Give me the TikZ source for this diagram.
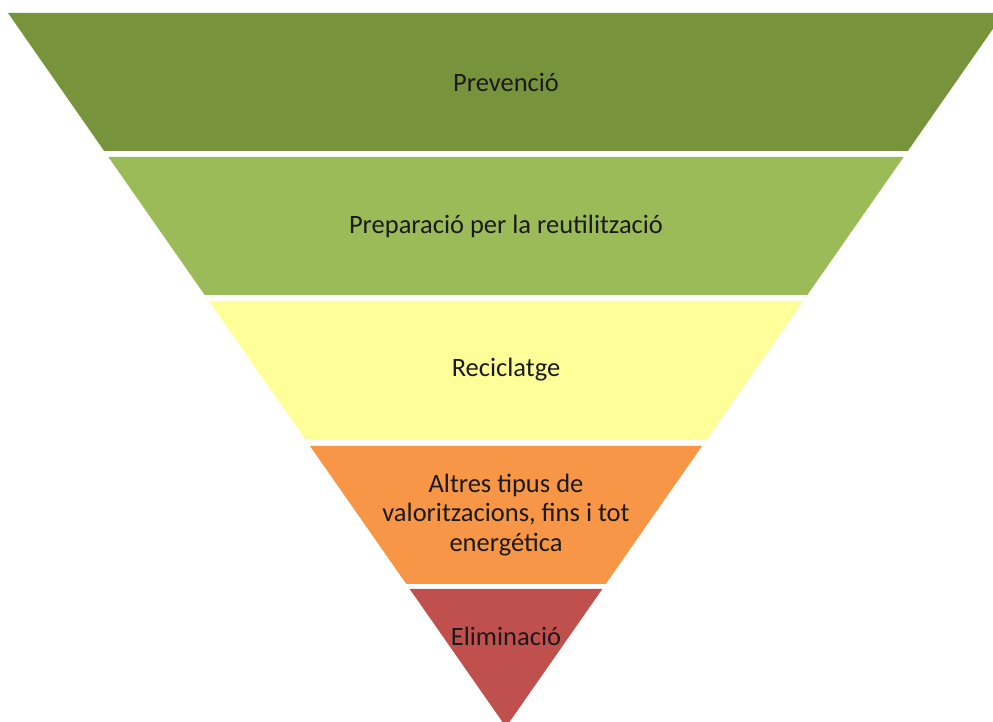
\documentclass[tikz,border=0pt]{standalone}
\usepackage{fontspec}
\setmainfont{Carlito}
\definecolor{cA}{HTML}{77933C}
\definecolor{cB}{HTML}{9BBB59}
\definecolor{cC}{HTML}{FFFF99}
\definecolor{cD}{HTML}{F79646}
\definecolor{cE}{HTML}{C0504D}
\definecolor{txt}{HTML}{1A1A1A}
\tikzset{
  lbl/.style={text=txt, font=\fontsize{26.5pt}{29.5pt}\selectfont, align=center, inner sep=0pt},
}
\begin{document}
\begin{tikzpicture}[x=1pt,y=1pt]
\useasboundingbox (0,0) rectangle (993,722);
\clip (0,0) rectangle (993,722);
\fill[cA] (8,709) -- (1004,709) -- (907.8,571) -- (104.2,571) -- cycle;
\fill[cB] (108.4,565) -- (903.6,565) -- (807.3,427) -- (204.7,427) -- cycle;
\fill[cC] (208.9,421) -- (803.1,421) -- (706.2,282) -- (305.8,282) -- cycle;
\fill[cD] (310,276) -- (702,276) -- (605.7,138) -- (406.3,138) -- cycle;
\fill[cE] (409.7,133) -- (602.3,133) -- (506,-5) -- cycle;
\node[lbl] (t1) at (506,640) {Prevenció};
\node[lbl] (t2) at (506,496) {Preparació per la reutilització};
\node[lbl] (t3) at (506,352) {Reciclatge};
\node[lbl] (t4) at (506,207) {Altres tipus de\\valoritzacions, fins i tot\\energética};
\node[lbl] (t5) at (506,86) {Eliminació};
\end{tikzpicture}
\end{document}
